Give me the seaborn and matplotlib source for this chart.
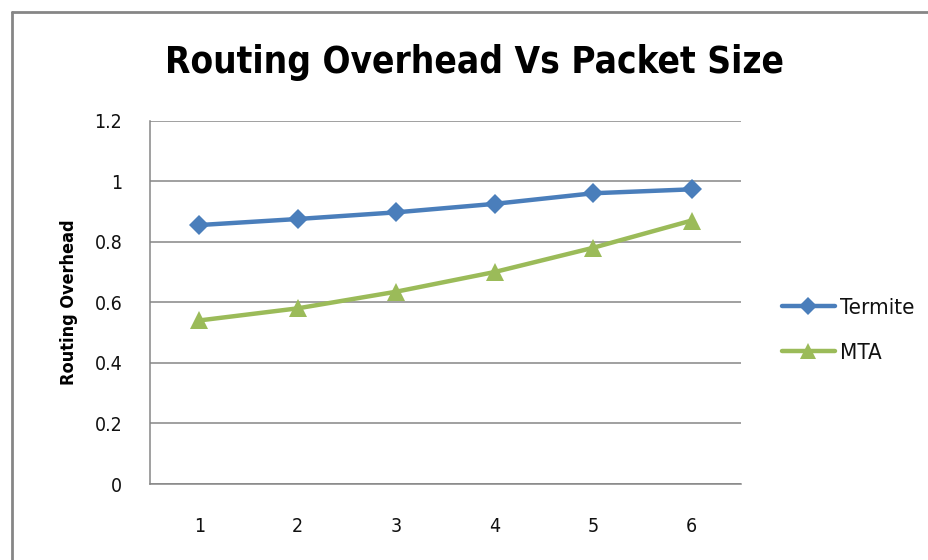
import matplotlib
matplotlib.use("Agg")
import matplotlib.pyplot as plt
from matplotlib.lines import Line2D
import seaborn as sns
import pandas as pd

# Routing overhead per packet size for the two protocols
packet_size = [1, 2, 3, 4, 5, 6]
termite = [0.855, 0.875, 0.897, 0.925, 0.96, 0.973]
mta = [0.54, 0.58, 0.635, 0.70, 0.78, 0.87]
series_names = ["Termite", "MTA"]
y_ticks = [0, 0.2, 0.4, 0.6, 0.8, 1.0, 1.2]
y_tick_labels = ["0", "0.2", "0.4", "0.6", "0.8", "1", "1.2"]

df = pd.DataFrame({
    "size": packet_size * 2,
    "overhead": termite + mta,
    "protocol": [series_names[0]] * len(termite) + [series_names[1]] * len(mta),
})

sns.set_theme(style="white")
plt.rcParams["font.family"] = ["DejaVu Sans"]

BLUE = "#4A7EBB"
GREEN = "#9BBB59"
GRID = "#868686"

fig = plt.figure(figsize=(9.29, 5.6), dpi=100)
ax = fig.add_axes([0.1615, 0.1357, 0.636, 0.649])

palette = {"Termite": BLUE, "MTA": GREEN}
markers = {"Termite": "D", "MTA": "^"}
msizes = {"Termite": 10.5, "MTA": 13}
for name in series_names:
    sub = df[df["protocol"] == name]
    sns.lineplot(data=sub, x="size", y="overhead", ax=ax, color=palette[name],
                 marker=markers[name], markersize=msizes[name],
                 markeredgewidth=0, linewidth=3.2, legend=False)

ax.set_xlim(0.5, 6.5)
ax.set_ylim(0, 1.2)
ax.set_xticks(packet_size)
ax.set_xticklabels([str(v) for v in packet_size], fontsize=14, color="#111111",
                   fontstretch="condensed")
ax.set_yticks(y_ticks)
ax.set_yticklabels(y_tick_labels, fontsize=14, color="#111111",
                   fontstretch="condensed")
ax.tick_params(axis="x", pad=24, length=0)
ax.tick_params(axis="y", pad=20, length=0)
ax.set_xlabel("")
ax.set_ylabel("Routing Overhead", fontsize=13, fontweight="bold", labelpad=12,
              fontstretch="condensed", color="black")

ax.yaxis.grid(True, color=GRID, linewidth=1.1)
ax.xaxis.grid(False)
ax.set_axisbelow(True)
for side in ["top", "right"]:
    ax.spines[side].set_visible(False)
for side in ["left", "bottom"]:
    ax.spines[side].set_color(GRID)
    ax.spines[side].set_linewidth(1.1)

handles = [
    Line2D([0], [0], color=BLUE, marker="D", markersize=9, markeredgewidth=0, linewidth=3.2),
    Line2D([0], [0], color=GREEN, marker="^", markersize=12, markeredgewidth=0, linewidth=3.2),
]
leg = fig.legend(handles, series_names, loc="center left", bbox_to_anchor=(0.82, 0.41),
                 frameon=False, fontsize=16, handlelength=2.4, handletextpad=0.2,
                 labelspacing=1.15)
for t in leg.get_texts():
    t.set_fontstretch("condensed")
    t.set_color("#111111")

fig.text(0.511, 0.888, "Routing Overhead Vs Packet Size", ha="center", va="center",
         fontsize=26.5, fontweight="bold", color="black", fontstretch="condensed")

# outer chart frame (top and left edges)
fig.add_artist(Line2D([12 / 929, 12 / 929], [0, 1 - 12 / 560], transform=fig.transFigure,
                      color=GRID, linewidth=2))
fig.add_artist(Line2D([12 / 929, 1], [1 - 12 / 560, 1 - 12 / 560], transform=fig.transFigure,
                      color=GRID, linewidth=2))

fig.savefig("out.png", dpi=100, facecolor="white")
